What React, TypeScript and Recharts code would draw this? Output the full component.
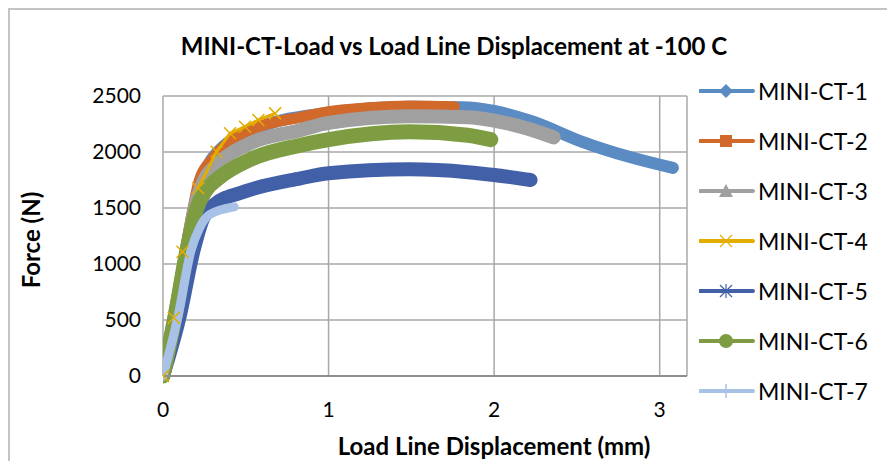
import React from 'react';
import { LineChart, Line, XAxis, YAxis, CartesianGrid } from 'recharts';

const seriesNames = ['MINI-CT-1', 'MINI-CT-2', 'MINI-CT-3', 'MINI-CT-4', 'MINI-CT-5', 'MINI-CT-6', 'MINI-CT-7'];
const seriesColors = ['#5B8BC3', '#D1692B', '#A0A0A0', '#E3AD00', '#4260A8', '#7E9C42', '#A7C2E6'];

const xTicks = [0, 1, 2, 3];
const yTicks = [0, 500, 1000, 1500, 2000, 2500];

const ct1X = [0, 0.07, 0.15, 0.2, 0.3, 0.6, 1.0, 1.5, 1.81, 2.0, 2.24, 2.52, 2.82, 3.08];
const ct1F = [0, 560, 1200, 1560, 1950, 2230, 2350, 2405, 2400, 2366, 2268, 2098, 1955, 1858];

const ct2X = [0, 0.065, 0.135, 0.183, 0.22, 0.3, 0.42, 0.586, 0.83, 1.0, 1.25, 1.49, 1.76];
const ct2F = [0, 520, 1125, 1512, 1750, 1940, 2110, 2230, 2310, 2360, 2395, 2410, 2405];

const ct3X = [0, 0.07, 0.145, 0.2, 0.26, 0.32, 0.53, 0.83, 1.0, 1.49, 1.84, 2.0, 2.2, 2.36];
const ct3F = [0, 520, 1125, 1550, 1780, 1880, 2080, 2195, 2260, 2320, 2310, 2280, 2210, 2130];

const ct4X = [0, 0.065, 0.118, 0.213, 0.324, 0.405, 0.495, 0.576, 0.677];
const ct4F = [0, 520, 1110, 1676, 2003, 2167, 2226, 2286, 2345];

const ct5X = [0, 0.1, 0.185, 0.24, 0.3, 0.5, 0.83, 1.0, 1.49, 1.84, 2.0, 2.22];
const ct5F = [0, 527, 1125, 1400, 1520, 1650, 1765, 1810, 1845, 1820, 1795, 1750];

const ct6X = [0, 0.072, 0.145, 0.2, 0.26, 0.33, 0.53, 0.83, 1.0, 1.49, 1.84, 1.98];
const ct6F = [0, 527, 1125, 1480, 1660, 1760, 1935, 2060, 2110, 2180, 2150, 2110];

const ct7X = [0, 0.09, 0.17, 0.22, 0.28, 0.43];
const ct7F = [0, 527, 1125, 1320, 1440, 1510];

const toData = (xs: number[], fs: number[]) => xs.map((x, i) => ({ x, F: fs[i] }));

const seriesData = [
  toData(ct1X, ct1F),
  toData(ct2X, ct2F),
  toData(ct3X, ct3F),
  toData(ct4X, ct4F),
  toData(ct5X, ct5F),
  toData(ct6X, ct6F),
  toData(ct7X, ct7F),
];

const bandWidths = [12, 11, 14, 3, 14, 15, 9];

const FONT = 'Lato, "Open Sans", sans-serif';

const XDot = (props: any) => {
  const { cx, cy, index } = props;
  if (cx == null || cy == null) return <g key={index} />;
  const s = 6;
  return (
    <path
      key={index}
      d={`M${cx - s},${cy - s}L${cx + s},${cy + s}M${cx - s},${cy + s}L${cx + s},${cy - s}`}
      stroke="#E3AD00"
      strokeWidth={1.5}
      fill="none"
    />
  );
};

const LegendMarker = ({ i, color }: { i: number; color: string }) => {
  const cx = 27;
  const cy = 10;
  let m: React.ReactNode = null;
  if (i === 0) m = <path d={`M${cx},${cy - 7}L${cx + 7},${cy}L${cx},${cy + 7}L${cx - 7},${cy}Z`} fill={color} />;
  if (i === 1) m = <rect x={cx - 6} y={cy - 6} width={12} height={12} fill={color} />;
  if (i === 2) m = <path d={`M${cx},${cy - 7}L${cx + 7},${cy + 6}L${cx - 7},${cy + 6}Z`} fill={color} />;
  if (i === 3) m = <path d={`M${cx - 6},${cy - 6}L${cx + 6},${cy + 6}M${cx - 6},${cy + 6}L${cx + 6},${cy - 6}`} stroke={color} strokeWidth={1.2} />;
  if (i === 4)
    m = (
      <path
        d={`M${cx - 6},${cy - 6}L${cx + 6},${cy + 6}M${cx - 6},${cy + 6}L${cx + 6},${cy - 6}M${cx},${cy - 7}L${cx},${cy + 7}`}
        stroke={color}
        strokeWidth={1.2}
      />
    );
  if (i === 5) m = <circle cx={cx} cy={cy} r={7} fill={color} />;
  if (i === 6) m = <path d={`M${cx},${cy - 7}L${cx},${cy + 7}`} stroke={color} strokeWidth={1.5} />;
  return (
    <svg width={56} height={20} style={{ display: 'block', flex: 'none' }}>
      <line x1={1} y1={cy} x2={54} y2={cy} stroke={color} strokeWidth={4} strokeLinecap="round" />
      {m}
    </svg>
  );
};

export default function App() {
  return (
    <div
      style={{
        position: 'absolute',
        left: 0,
        top: 0,
        width: 887,
        height: 461,
        overflow: 'hidden',
        background: '#fff',
        fontFamily: FONT,
      }}
    >
      <div
        style={{
          position: 'absolute',
          left: 8,
          top: 8,
          width: 940,
          height: 520,
          border: '2px solid #C4C4C4',
        }}
      />
      <div style={{ position: 'absolute', left: 0, top: 0 }}>
        <LineChart
          width={887}
          height={461}
          margin={{ top: 96, right: 200, bottom: 45, left: 63 }}
        >
          <CartesianGrid stroke="#A8A8A8" strokeWidth={1.5} />
          <XAxis
            type="number"
            dataKey="x"
            domain={[0, 3.165]}
            ticks={xTicks}
            allowDataOverflow
            tickLine={false}
            tickSize={0}
            tickMargin={26}
            height={40}
            axisLine={{ stroke: '#8E8E8E', strokeWidth: 2 }}
            tick={{ fill: '#000', fontSize: 21, fontFamily: FONT }}
          />
          <YAxis
            type="number"
            dataKey="F"
            domain={[0, 2500]}
            ticks={yTicks}
            tickLine={false}
            tickSize={0}
            tickMargin={22}
            width={100}
            axisLine={false}
            tick={{ fill: '#000', fontSize: 21, fontFamily: FONT }}
          />
          {seriesData.map((d, i) => (
            <Line
              key={seriesNames[i]}
              name={seriesNames[i]}
              data={d}
              dataKey="F"
              type={i === 3 ? 'linear' : 'monotone'}
              stroke={seriesColors[i]}
              strokeWidth={bandWidths[i]}
              strokeLinejoin="round"
              strokeLinecap={i === 3 ? 'butt' : 'round'}
              dot={i === 3 ? (p: any) => <XDot {...p} /> : false}
              activeDot={false}
              isAnimationActive={false}
            />
          ))}
        </LineChart>
      </div>
      <div
        style={{
          position: 'absolute',
          left: 0,
          width: 908,
          top: 31,
          textAlign: 'center',
          fontWeight: 700,
          fontSize: 24,
          lineHeight: '30px',
          color: '#000',
          whiteSpace: 'nowrap',
        }}
      >
        MINI-CT-Load vs Load Line Displacement at -100 C
      </div>
      <div
        style={{
          position: 'absolute',
          left: 294,
          width: 400,
          top: 431,
          textAlign: 'center',
          fontWeight: 700,
          fontSize: 24,
          lineHeight: '30px',
          color: '#000',
          whiteSpace: 'nowrap',
        }}
      >
        Load Line Displacement (mm)
      </div>
      <div
        style={{
          position: 'absolute',
          left: 31 - 100,
          width: 200,
          top: 240 - 15,
          textAlign: 'center',
          fontWeight: 700,
          fontSize: 24,
          lineHeight: '30px',
          color: '#000',
          whiteSpace: 'nowrap',
          transform: 'rotate(-90deg)',
        }}
      >
        Force (N)
      </div>
      <div style={{ position: 'absolute', left: 699, top: 66 }}>
        {seriesNames.map((n, i) => (
          <div key={n} style={{ display: 'flex', alignItems: 'center', height: 50 }}>
            <LegendMarker i={i} color={seriesColors[i]} />
            <span style={{ fontSize: 23, lineHeight: '26px', color: '#000', marginLeft: 3 }}>{n}</span>
          </div>
        ))}
      </div>
    </div>
  );
}
